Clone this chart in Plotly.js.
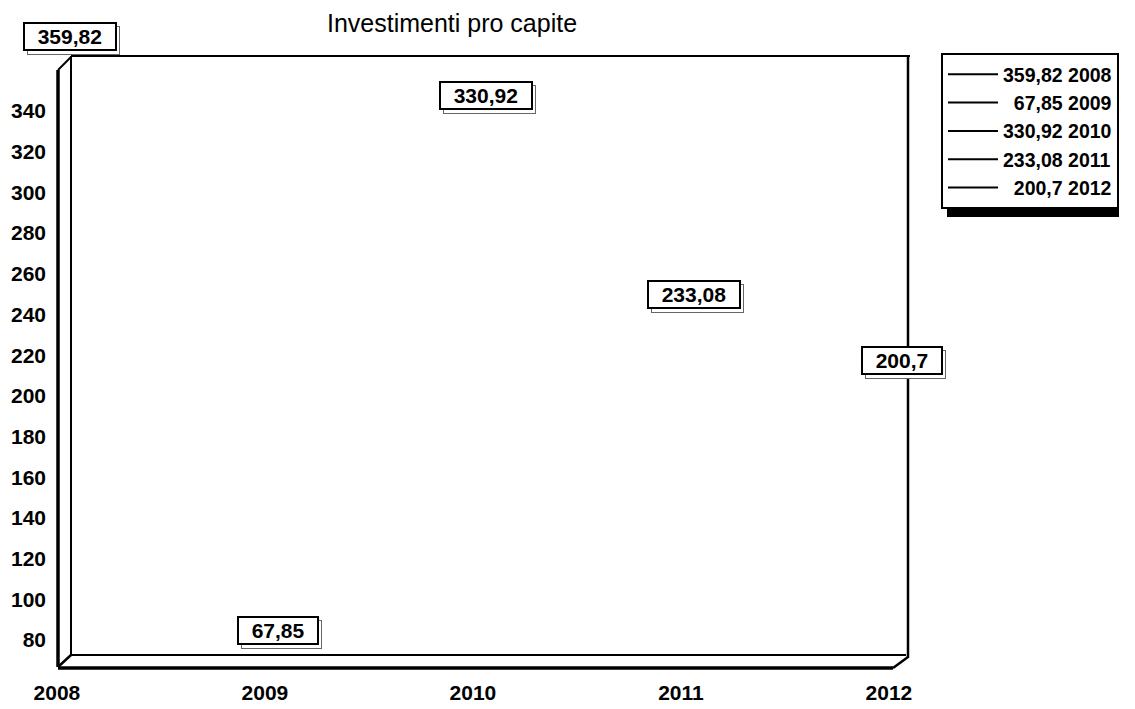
<!DOCTYPE html>
<html>
<head>
<meta charset="utf-8">
<script src="https://cdn.plot.ly/plotly-3.0.1.min.js"></script>
<style>html,body{margin:0;padding:0;background:#fff;}#chart{width:1135px;height:709px;}</style>
</head>
<body>
<div id="chart"></div>
<script>
// ---- data ----
const years = ['2008', '2009', '2010', '2011', '2012'];
const values = [359.82, 67.85, 330.92, 233.08, 200.7];
const valueLabels = ['359,82', '67,85', '330,92', '233,08', '200,7'];
const legendNames = ['359,82 2008', '\u00a0\u00a067,85 2009', '330,92 2010', '233,08 2011', '\u00a0\u00a0200,7 2012'];
const yTicks = [80, 100, 120, 140, 160, 180, 200, 220, 240, 260, 280, 300, 320, 340];
const chartTitle = 'Investimenti pro capite';

// ---- geometry helpers (decorative 3D frame) ----
const W = 1135, H = 709;
const M = {l: 57, r: 225, t: 56, b: 42};
const PW = W - M.l - M.r, PH = H - M.t - M.b;
function px(x) { return (x - M.l) / PW; }
function py(y) { return (H - M.b - y) / PH; }
function seg(x0, y0, x1, y1, w) {
  return {type: 'line', xref: 'paper', yref: 'paper', x0: px(x0), y0: py(y0), x1: px(x1), y1: py(y1),
          line: {color: '#000', width: w}, layer: 'above'};
}

const FONT = 'Liberation Sans, Arial, sans-serif';
const LABEL_SIZE = 21;

// measure label text so the drop-shadow box can match the label box
const ctx = document.createElement('canvas').getContext('2d');
ctx.font = 'bold ' + LABEL_SIZE + 'px "Liberation Sans", Arial, sans-serif';

const traces = years.map((yr, i) => ({
  type: 'scatter', mode: 'lines', x: [yr], y: [values[i]], name: legendNames[i],
  line: {color: '#000', width: 2}, hoverinfo: 'skip'
}));

const annotations = [];
years.forEach((yr, i) => {
  const txt = '\u00a0\u00a0' + valueLabels[i] + '\u00a0\u00a0';
  const tw = Math.ceil(ctx.measureText(txt).width);
  // shadow box (category index position)
  annotations.push({x: i, y: values[i], xref: 'x', yref: 'y', text: '\u00a0', showarrow: false,
    width: tw + 1, height: 25,
    xshift: 4 + 4, yshift: 34 - 4, font: {family: FONT, size: 10, color: 'rgba(0,0,0,0)'},
    bgcolor: '#fff', bordercolor: '#666', borderwidth: 1, borderpad: 1});
  annotations.push({x: i, y: values[i], xref: 'x', yref: 'y', text: txt, showarrow: false,
    xshift: 4, yshift: 34, font: {family: FONT, size: LABEL_SIZE, color: '#000', weight: 'bold'},
    bgcolor: '#fff', bordercolor: '#000', borderwidth: 2, borderpad: 1});
});

const shapes = [
  seg(71, 56, 910, 56, 2),     // back top
  seg(71, 56, 71, 655, 2),     // back left
  seg(908, 56, 908, 658, 2.5),   // back right
  seg(71, 655, 906, 655, 2),   // back bottom
  seg(58, 70, 71, 57, 2),      // top-left diagonal
  seg(58, 70, 58, 667, 3.5),   // front left
  seg(58, 667, 71, 655, 2.5),  // bottom-left diagonal
  seg(58, 668, 893, 668, 3.5), // front bottom
  seg(893, 668, 908, 657, 2.5),// bottom-right diagonal
  {type: 'rect', xref: 'paper', yref: 'paper', x0: px(947), x1: px(1119), y0: py(217), y1: py(208),
   fillcolor: '#000', line: {width: 0}, layer: 'above'}
];

const layout = {
  width: W, height: H, margin: M,
  paper_bgcolor: '#fff', plot_bgcolor: '#fff',
  showlegend: true,
  title: {text: chartTitle, font: {family: FONT, size: 25, color: '#000'},
          x: 452 / W, xanchor: 'center', y: 1 - 23 / H, yanchor: 'middle'},
  xaxis: {type: 'category', range: [-0.043, 4.058], showgrid: false, zeroline: false, showline: false,
          ticks: '', tickfont: {family: FONT, size: 21, color: '#000', weight: 'bold'},
          ticklabelshift: -9, ticklabelstandoff: 11, fixedrange: true},
  yaxis: {range: [66.8, 367], tickvals: yTicks, showgrid: false, zeroline: false, showline: false,
          ticks: '', tickfont: {family: FONT, size: 21, color: '#000', weight: 'bold'},
          ticklabelstandoff: 10, fixedrange: true},
  legend: {x: px(941), y: py(53), xanchor: 'left', yanchor: 'top', bgcolor: '#fff',
           bordercolor: '#000', borderwidth: 2, itemwidth: 50, tracegroupgap: 0,
           font: {family: FONT, size: 19.5, color: '#000', weight: 'bold'}},
  annotations: annotations,
  shapes: shapes
};

Plotly.newPlot('chart', traces, layout, {displayModeBar: false, staticPlot: true});
</script>
</body>
</html>
